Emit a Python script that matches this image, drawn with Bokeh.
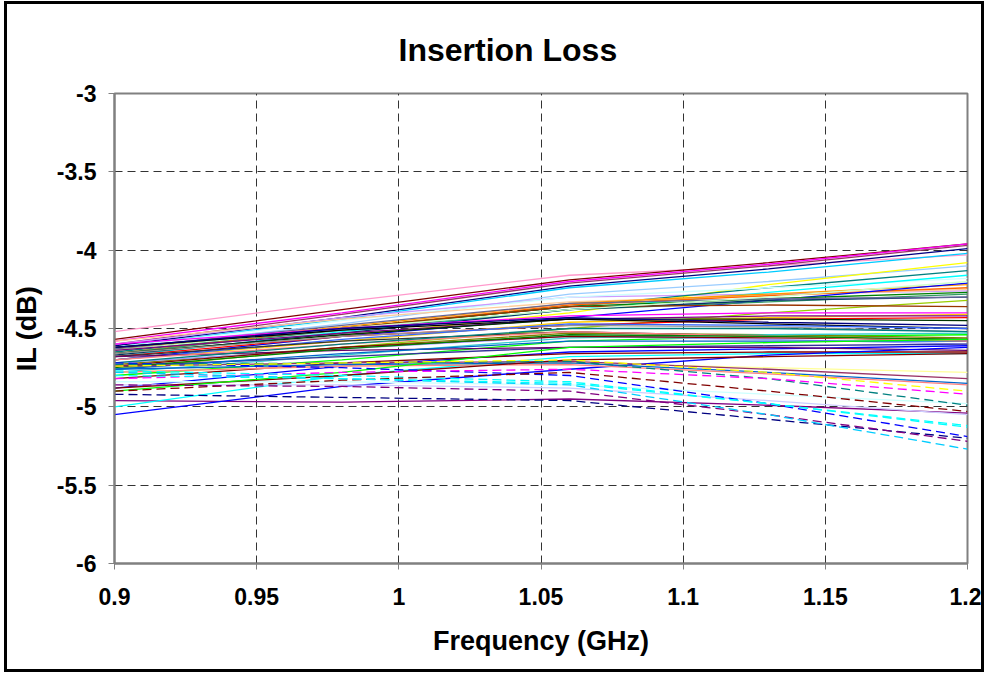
from bokeh.plotting import figure
from bokeh.embed import file_html
from bokeh.resources import INLINE
from bokeh.models import FixedTicker

freq = [0.90, 0.98, 1.06, 1.13, 1.20]

solid_colors = [
    "#FF99CC", "#800000", "#FF00FF", "#993366", "#000080", "#00CCFF", "#99CCFF", "#FFFF00",
    "#CC99FF", "#008080", "#CCFFFF", "#00FFFF", "#FFCC99", "#FF9900", "#FF6600", "#0000FF",
    "#008000", "#339966", "#003366", "#666699", "#99CC00", "#993300", "#CCFFCC",
    "#FF00FF", "#FFCC00", "#800080", "#FF0000", "#003300", "#000000", "#969696", "#3366FF",
    "#000080", "#00FF00", "#808000", "#333333", "#9999FF", "#33CCCC", "#0000FF", "#333399",
    "#660066", "#800000", "#0066CC", "#800000", "#FF8080", "#008080", "#008000",
    "#FFFF99", "#800080", "#00FFFF", "#0000FF", "#0066CC", "#FF8080", "#993366", "#CCFFFF",
    "#CCCCFF", "#800000", "#00FF00",
]

solid_values = [
    [-4.52, -4.33, -4.16, -4.10, -4.03],
    [-4.57, -4.38, -4.19, -4.08, -3.96],
    [-4.58, -4.40, -4.20, -4.09, -3.96],
    [-4.60, -4.41, -4.21, -4.10, -3.97],
    [-4.61, -4.43, -4.23, -4.12, -3.99],
    [-4.62, -4.44, -4.24, -4.14, -4.02],
    [-4.63, -4.47, -4.28, -4.20, -4.10],
    [-4.70, -4.55, -4.40, -4.22, -4.08],
    [-4.60, -4.43, -4.30, -4.28, -4.26],
    [-4.65, -4.50, -4.36, -4.24, -4.13],
    [-4.62, -4.45, -4.30, -4.24, -4.18],
    [-4.68, -4.52, -4.38, -4.27, -4.16],
    [-4.58, -4.44, -4.33, -4.29, -4.25],
    [-4.63, -4.49, -4.34, -4.28, -4.22],
    [-4.66, -4.50, -4.35, -4.29, -4.24],
    [-4.70, -4.55, -4.43, -4.32, -4.21],
    [-4.64, -4.50, -4.36, -4.31, -4.27],
    [-4.66, -4.51, -4.38, -4.33, -4.28],
    [-4.67, -4.53, -4.38, -4.32, -4.30],
    [-4.63, -4.48, -4.34, -4.31, -4.30],
    [-4.76, -4.62, -4.50, -4.40, -4.32],
    [-4.62, -4.50, -4.36, -4.35, -4.36],
    [-4.64, -4.50, -4.38, -4.30, -4.20],
    [-4.60, -4.50, -4.42, -4.40, -4.40],
    [-4.70, -4.58, -4.46, -4.43, -4.41],
    [-4.64, -4.53, -4.44, -4.42, -4.42],
    [-4.68, -4.55, -4.48, -4.44, -4.43],
    [-4.66, -4.54, -4.44, -4.44, -4.45],
    [-4.62, -4.51, -4.44, -4.47, -4.50],
    [-4.66, -4.55, -4.48, -4.49, -4.52],
    [-4.70, -4.57, -4.47, -4.48, -4.50],
    [-4.62, -4.50, -4.43, -4.46, -4.48],
    [-4.80, -4.70, -4.58, -4.55, -4.54],
    [-4.73, -4.62, -4.53, -4.54, -4.56],
    [-4.68, -4.58, -4.52, -4.55, -4.58],
    [-4.72, -4.63, -4.55, -4.57, -4.60],
    [-4.78, -4.67, -4.56, -4.54, -4.53],
    [-4.88, -4.74, -4.65, -4.63, -4.61],
    [-4.74, -4.68, -4.62, -4.61, -4.60],
    [-4.68, -4.64, -4.62, -4.62, -4.64],
    [-4.82, -4.72, -4.66, -4.65, -4.65],
    [-4.76, -4.66, -4.58, -4.58, -4.58],
    [-4.74, -4.62, -4.55, -4.56, -4.57],
    [-4.70, -4.60, -4.52, -4.55, -4.58],
    [-4.72, -4.60, -4.50, -4.50, -4.52],
    [-4.75, -4.63, -4.54, -4.55, -4.57],
    [-4.78, -4.74, -4.72, -4.75, -4.78],
    [-4.96, -4.97, -4.95, -4.99, -5.04],
    [-5.00, -4.80, -4.68, -4.66, -4.66],
    [-5.05, -4.87, -4.76, -4.67, -4.62],
    [-4.76, -4.73, -4.72, -4.78, -4.85],
    [-4.78, -4.74, -4.73, -4.79, -4.86],
    [-4.74, -4.72, -4.71, -4.76, -4.82],
    [-4.84, -4.84, -4.86, -4.92, -4.98],
    [-4.86, -4.86, -4.88, -4.96, -5.05],
    [-4.88, -4.80, -4.70, -4.68, -4.66],
    [-4.90, -4.78, -4.62, -4.59, -4.57],
]

dashed_colors = [
    "#0000FF", "#008080", "#FFFF00", "#FF00FF", "#00FFFF", "#800000",
    "#000080", "#800080", "#00CCFF", "#00FFFF",
]

dashed_values = [
    [-4.72, -4.75, -4.80, -4.98, -5.19],
    [-4.73, -4.72, -4.71, -4.82, -4.99],
    [-4.74, -4.72, -4.70, -4.78, -4.90],
    [-4.82, -4.78, -4.76, -4.82, -4.92],
    [-4.77, -4.80, -4.84, -4.98, -5.12],
    [-4.90, -4.83, -4.78, -4.90, -5.03],
    [-4.92, -4.94, -4.96, -5.08, -5.20],
    [-4.86, -4.87, -4.90, -5.05, -5.22],
    [-4.78, -4.82, -4.86, -5.05, -5.27],
    [-4.80, -4.82, -4.85, -4.98, -5.13],
]

x_ticks = [0.9, 0.95, 1.0, 1.05, 1.1, 1.15, 1.2]
y_ticks = [-6, -5.5, -5, -4.5, -4, -3.5, -3]

FONT = "Liberation Sans"

p = figure(width=980, height=671, output_backend="svg", toolbar_location=None,
           x_range=(0.9, 1.2), y_range=(-6, -3),
           min_border_left=107, min_border_right=20, min_border_top=89, min_border_bottom=112,
           title="Insertion Loss")
p.styles = {"border": "3px solid black", "margin-left": "4px", "margin-top": "1px"}

p.title.align = "left"
p.title.offset = 284
p.title.standoff = 51
p.title.text_font = FONT
p.title.text_font_size = "32px"
p.title.text_font_style = "bold"
p.title.text_color = "black"

for c, v in zip(solid_colors, solid_values):
    p.line(freq, v, line_color=c, line_width=1.3)
for c, v in zip(dashed_colors, dashed_values):
    p.line(freq, v, line_color=c, line_width=1.3, line_dash="9 5")

p.xaxis.ticker = FixedTicker(ticks=x_ticks)
p.yaxis.ticker = FixedTicker(ticks=y_ticks)
p.xaxis.major_label_overrides = {0.9: "0.9", 0.95: "0.95", 1.0: "1", 1.05: "1.05",
                                 1.1: "1.1", 1.15: "1.15", 1.2: "1.2"}
p.yaxis.major_label_overrides = {-6: "-6", -5.5: "-5.5", -5: "-5", -4.5: "-4.5",
                                 -4: "-4", -3.5: "-3.5", -3: "-3"}

for ax in (p.xaxis[0], p.yaxis[0]):
    ax.axis_line_color = "#808080"
    ax.axis_line_width = 2
    ax.major_tick_line_color = "#808080"
    ax.major_tick_line_width = 1
    ax.major_tick_out = 6
    ax.major_tick_in = 0
    ax.minor_tick_line_color = None
    ax.major_label_text_font = FONT
    ax.major_label_text_font_size = "23px"
    ax.major_label_text_font_style = "bold"
    ax.major_label_text_color = "black"
    ax.axis_label_text_font = FONT
    ax.axis_label_text_font_size = "27px"
    ax.axis_label_text_font_style = "bold"
    ax.axis_label_text_color = "black"

p.xaxis.axis_label = "Frequency (GHz)"
p.yaxis.axis_label = "IL (dB)"
p.xaxis.major_label_standoff = 18
p.xaxis.axis_label_standoff = 18
p.yaxis.major_label_standoff = 12
p.yaxis.axis_label_standoff = 12

p.grid.grid_line_color = "#333333"
p.grid.grid_line_dash = "8 5"
p.grid.grid_line_width = 1

p.outline_line_color = "#808080"
p.outline_line_width = 2

open("out.html", "w").write(file_html(p, INLINE))
